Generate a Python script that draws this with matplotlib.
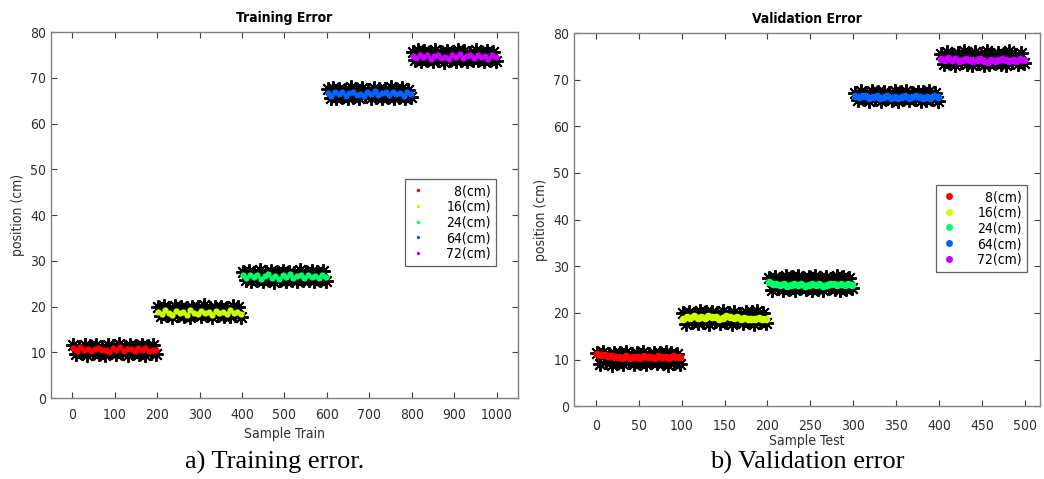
import numpy as np
import matplotlib
matplotlib.use("Agg")
import matplotlib.pyplot as plt
from matplotlib.lines import Line2D

plt.rcParams['font.family'] = ['DejaVu Sans']
plt.rcParams['font.stretch'] = 'condensed'

labels = ['  8(cm)', '16(cm)', '24(cm)', '64(cm)', '72(cm)']
colors = ['#ff0000', '#ccff00', '#00ff66', '#0066ff', '#cc00ff']

# training set: 200 samples per position
train_pred = [
    [10.9, 10.3, 11.1, 10.5, 10.8, 10.2, 10.7, 11.0, 10.4, 10.6, 10.1, 10.9, 10.5, 11.2, 10.3, 10.7, 10.8, 10.2, 11.0, 10.4, 10.9, 10.3, 10.6, 10.5],
    [18.9, 18.3, 19.2, 18.6, 18.1, 19.0, 18.5, 18.8, 18.2, 19.3, 18.7, 18.4, 19.0, 18.6, 18.9, 18.2, 19.1, 18.5, 18.8, 18.3, 19.2, 18.6, 18.9, 18.4],
    [26.8, 26.2, 27.0, 26.4, 26.9, 26.1, 26.7, 27.1, 26.3, 26.6, 26.0, 26.9, 26.5, 27.2, 26.2, 26.6, 26.8, 26.3, 27.0, 26.4, 26.7, 26.2, 26.9, 26.5],
    [66.7, 66.1, 66.9, 66.4, 66.8, 66.0, 66.6, 67.0, 66.2, 66.5, 66.0, 66.8, 66.4, 67.1, 66.2, 66.6, 66.9, 66.3, 66.8, 66.4, 66.7, 66.1, 66.9, 66.5],
    [74.8, 74.3, 75.0, 74.5, 74.9, 74.2, 74.7, 75.1, 74.4, 74.6, 74.1, 74.9, 74.5, 75.2, 74.3, 74.7, 74.9, 74.4, 75.0, 74.5, 74.8, 74.2, 74.9, 74.6],
]
train_meas = [
    [11.5, 9.6, 11.2, 9.9, 11.7, 9.5, 11.3, 9.8, 11.6, 9.7, 11.1, 9.4, 11.5, 10.0, 11.4, 9.6, 11.8, 9.8, 11.2, 9.5, 11.6, 9.9, 11.3, 9.7, 11.7, 9.5, 11.4, 9.8, 11.5, 9.6],
    [19.8, 17.9, 20.1, 18.2, 19.7, 17.8, 20.2, 18.1, 19.9, 18.0, 19.6, 17.7, 20.0, 18.3, 19.8, 17.9, 20.3, 18.1, 19.7, 17.8, 20.0, 18.2, 19.9, 18.0, 19.6, 17.9, 20.1, 18.2, 19.8, 17.8],
    [27.5, 25.7, 27.8, 25.5, 27.4, 25.9, 27.9, 25.6, 27.6, 25.8, 27.7, 25.4, 27.5, 25.9, 27.8, 25.6, 27.6, 25.8, 27.4, 25.5, 27.9, 25.7, 27.6, 25.9, 27.8, 25.6, 27.5, 25.8, 27.7, 25.5],
    [67.5, 65.7, 67.8, 65.5, 67.6, 65.9, 67.4, 65.6, 67.9, 65.8, 67.5, 65.6, 67.7, 66.0, 67.4, 65.5, 67.8, 65.8, 67.6, 65.7, 67.5, 65.9, 67.9, 65.6, 67.5, 65.8, 67.7, 65.6, 67.4, 65.9],
    [75.7, 73.8, 76.0, 73.6, 75.8, 74.0, 75.6, 73.7, 76.1, 73.9, 75.7, 73.5, 75.9, 73.9, 75.6, 73.7, 76.1, 73.8, 75.8, 73.6, 75.5, 73.9, 76.0, 74.0, 75.7, 73.7, 75.9, 73.8, 75.6, 73.6],
]

# validation set: 100 samples per position
val_pred = [
    [11.2, 10.9, 11.0, 10.7, 10.8, 10.5, 10.6, 10.4, 10.7, 10.3, 10.5, 10.6, 10.4, 10.8, 10.5, 10.6, 10.3, 10.7, 10.5, 10.6, 10.4, 10.8, 10.5, 10.6],
    [18.8, 19.1, 18.9, 19.3, 19.0, 19.2, 18.9, 19.4, 19.1, 19.2, 18.8, 19.0, 19.3, 19.1, 18.9, 19.2, 18.7, 18.9, 18.6, 18.8, 18.7, 18.9, 18.6, 18.7],
    [26.6, 26.3, 26.1, 25.9, 26.2, 25.8, 26.0, 26.3, 25.9, 26.1, 25.7, 26.0, 26.2, 25.9, 26.1, 25.8, 26.0, 26.3, 26.1, 25.9, 26.2, 26.0, 26.1, 25.9],
    [66.5, 66.2, 66.4, 66.6, 66.1, 66.3, 66.5, 66.0, 66.2, 66.4, 66.1, 66.3, 66.0, 66.2, 66.4, 66.1, 66.3, 66.5, 66.2, 66.0, 66.3, 66.1, 66.4, 66.2],
    [74.5, 74.3, 74.6, 74.2, 74.4, 74.1, 74.3, 74.5, 74.2, 74.0, 74.3, 74.4, 74.1, 73.9, 74.2, 74.0, 74.3, 74.5, 74.2, 74.1, 74.3, 74.0, 74.4, 74.2],
]
val_meas = [
    [11.3, 9.1, 11.6, 9.4, 11.1, 8.9, 11.5, 9.3, 11.4, 9.0, 11.7, 9.5, 11.2, 9.0, 11.5, 9.2, 11.6, 9.1, 11.1, 9.4, 11.5, 9.2, 11.3, 9.3, 11.7, 8.9, 11.4, 9.2, 11.2, 9.1],
    [20.0, 17.7, 20.3, 18.0, 19.8, 17.8, 20.4, 18.1, 20.1, 17.6, 20.2, 18.2, 19.9, 17.9, 20.5, 18.0, 20.0, 17.7, 20.3, 18.2, 19.8, 17.8, 20.2, 18.1, 20.1, 17.6, 20.4, 18.0, 19.9, 17.9],
    [27.5, 25.0, 27.8, 25.3, 27.3, 24.9, 27.9, 25.2, 27.6, 25.0, 28.0, 25.4, 27.4, 25.1, 27.7, 24.9, 27.9, 25.2, 27.5, 25.0, 27.8, 25.3, 27.3, 25.1, 28.0, 24.9, 27.6, 25.2, 27.4, 25.4],
    [67.2, 65.6, 67.5, 65.9, 67.1, 65.4, 67.6, 65.8, 67.3, 65.5, 67.4, 66.0, 67.2, 65.7, 67.5, 65.4, 67.3, 65.8, 67.6, 65.6, 67.1, 65.9, 67.4, 65.5, 67.3, 65.7, 67.5, 65.9, 67.2, 65.4],
    [75.5, 73.3, 76.0, 73.6, 75.3, 73.1, 75.8, 73.7, 76.1, 73.4, 75.4, 73.2, 75.9, 73.5, 75.6, 73.1, 76.2, 73.3, 75.3, 73.6, 75.8, 73.4, 75.5, 73.2, 76.1, 73.7, 75.4, 73.3, 75.7, 73.5],
]

asterisk = (8, 2, 0)
spine_col = '#808080'


def draw_panel(ax, pred, meas, seg_len, dot_size, leg_dot):
    for i in range(len(labels)):
        start = i * seg_len
        xm = np.linspace(start + 2, start + seg_len - 2, len(meas[i]))
        ax.plot(xm, meas[i], linestyle='none', marker=asterisk, markersize=10.5,
                markeredgewidth=1.4, color='black')
        xp = np.linspace(start + 2, start + seg_len - 2, len(pred[i]))
        ax.plot(xp, pred[i], linestyle='none', marker='o', markersize=dot_size,
                color=colors[i], markeredgewidth=0)
    for s in ax.spines.values():
        s.set_color(spine_col)
        s.set_linewidth(1.0)
    ax.set_ylim(0, 80)
    ax.set_yticks(range(0, 81, 10))
    ax.tick_params(direction='in', length=4, color='#404040', labelsize=10,
                   labelcolor='#303030', top=True, right=True)
    ax.set_ylabel('position (cm)', fontsize=10, color='#303030')
    handles = [Line2D([], [], linestyle='none', marker='o', markersize=leg_dot,
                      color=c, markeredgewidth=0) for c in colors]
    return handles


def add_legend(ax, handles, anchor):
    leg = ax.legend(handles, labels, loc='upper right', bbox_to_anchor=anchor,
                    fontsize=10, frameon=True, fancybox=False, handlelength=1.2,
                    handletextpad=1.4, borderpad=0.35, labelspacing=0.12,
                    framealpha=1)
    leg.get_frame().set_edgecolor('#606060')
    leg.get_frame().set_linewidth(0.9)


fig = plt.figure(figsize=(10.44, 4.79), dpi=100)
ax1 = fig.add_axes([0.0489, 0.169, 0.447, 0.764])
ax2 = fig.add_axes([0.550, 0.152, 0.446, 0.779])

h1 = draw_panel(ax1, train_pred, train_meas, 200, 4.5, 2.5)
ax1.set_xlim(-50, 1050)
ax1.set_xticks(range(0, 1001, 100))
ax1.tick_params(axis='x', pad=7)
ax1.set_title('Training Error', fontsize=10, fontweight='bold', pad=7)
ax1.set_xlabel('Sample Train', fontsize=10, color='#303030', labelpad=4)
add_legend(ax1, h1, (0.968, 0.617))

h2 = draw_panel(ax2, val_pred, val_meas, 100, 5.5, 5)
ax2.set_xlim(-25, 517)
ax2.set_xticks(range(0, 501, 50))
ax2.tick_params(axis='x', pad=9)
ax2.set_title('Validation Error', fontsize=10, fontweight='bold', pad=7)
ax2.set_xlabel('Sample Test', fontsize=10, color='#303030', labelpad=1)
add_legend(ax2, h2, (0.987, 0.611))

fig.text(0.263, 0.035, 'a) Training error.', fontsize=19, family='Liberation Serif',
         ha='center', va='center')
fig.text(0.773, 0.035, 'b) Validation error', fontsize=19, family='Liberation Serif',
         ha='center', va='center')

fig.savefig('out.png', dpi=100)
